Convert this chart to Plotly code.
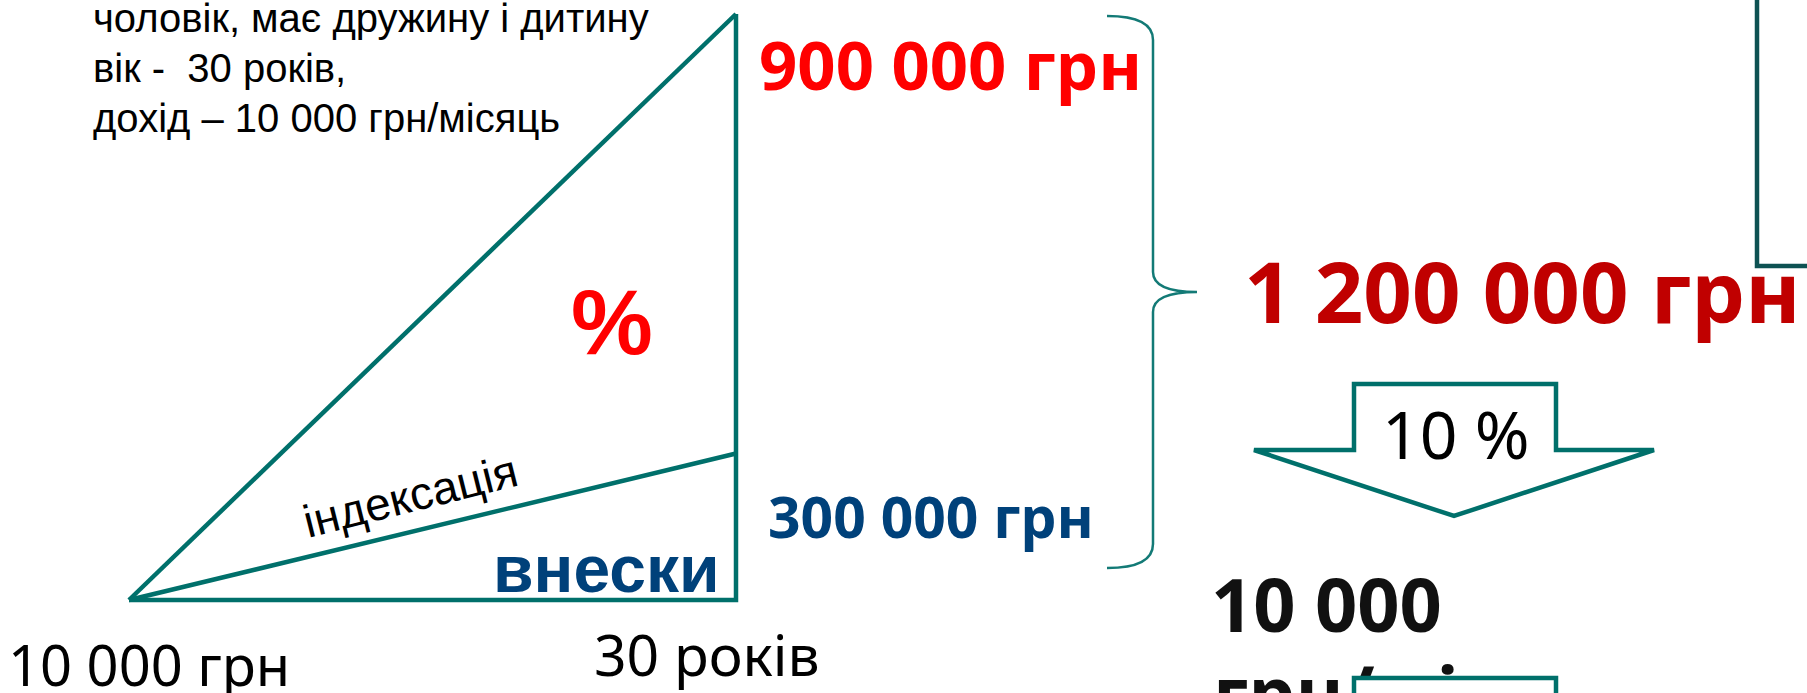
import plotly.graph_objects as go

# ---- data ----
years = 30                      # savings horizon, years
monthly_income = 10000          # грн / month
contributions = 300000          # own contributions, грн
investment_growth = 900000      # investment income, грн
total_savings = 1200000         # accumulated total, грн
payout_percent = 10             # annual payout share, %
monthly_payout = 10000          # грн / month

description_lines = [
    "чоловік, має дружину і дитину",
    "вік -  30 років,",
    "дохід – 10 000 грн/місяць",
]
label_contrib = "внески"
label_index = "індексація"
label_percent = "%"
payout_unit = "грн/міс"


def fmt(v):
    return f"{v:,}".replace(",", " ")


W, H = 1807, 693
TEAL = "#00706B"
DARK_TEAL = "#0E5253"
RED = "#FF0000"
DARK_RED = "#C00000"
NAVY = "#00417A"
ARIAL = "Liberation Sans, Arial, sans-serif"
SANS = "Noto Sans, Open Sans, sans-serif"

fig = go.Figure()

# triangle chart: x = years, y = hryvnia
fig.add_trace(go.Scatter(
    x=[0, years, years], y=[0, 0, total_savings], mode="lines",
    line=dict(color=TEAL, width=4.5), hoverinfo="skip", showlegend=False,
    xaxis="x", yaxis="y"))
fig.add_trace(go.Scatter(
    x=[0, years], y=[0, total_savings], mode="lines",
    line=dict(color=TEAL, width=4.5), hoverinfo="skip", showlegend=False,
    xaxis="x", yaxis="y"))
fig.add_trace(go.Scatter(
    x=[0, years], y=[0, contributions], mode="lines",
    line=dict(color=TEAL, width=4.5), hoverinfo="skip", showlegend=False,
    xaxis="x", yaxis="y"))

# payout unit text drawn as a trace so the box shape can cover it
fig.add_trace(go.Scatter(
    x=[1213], y=[664], mode="text", text=[f"<b>{payout_unit}</b>"],
    textposition="bottom right", cliponaxis=False,
    textfont=dict(family=SANS, size=74, color="#111111"),
    hoverinfo="skip", showlegend=False, xaxis="x2", yaxis="y2"))

# axis mapping: year 0 -> px 129, year 30 -> px 736 ; 0 грн -> px 600, total -> px 14
x0p, x1p = 129, 736
y0p, y1p = 600, 14
ppy = (x1p - x0p) / years
ppv = (y0p - y1p) / total_savings
xr = [-1, years + 1]
yr = [-20000, total_savings + 20000]
xd = [(x0p + xr[0] * ppy) / W, (x0p + xr[1] * ppy) / W]
yd = [1 - (y0p - yr[0] * ppv) / H, 1 - (y0p - yr[1] * ppv) / H]

fig.update_layout(
    width=W, height=H, margin=dict(l=0, r=0, t=0, b=0),
    paper_bgcolor="white", plot_bgcolor="rgba(0,0,0,0)",
    xaxis=dict(domain=xd, range=xr, visible=False, fixedrange=True),
    yaxis=dict(domain=yd, range=yr, visible=False, fixedrange=True),
    xaxis2=dict(domain=[0, 1], range=[0, W], visible=False, anchor="y2", fixedrange=True),
    yaxis2=dict(domain=[0, 1], range=[H, 0], visible=False, anchor="x2", fixedrange=True),
    showlegend=False,
)

ann = []


def text(x, y, t, size, color="black", family=SANS, bold=False, xanchor="left",
         yanchor="middle", angle=0):
    if bold:
        t = f"<b>{t}</b>"
    ann.append(dict(x=x, y=y, xref="x2", yref="y2", text=t, showarrow=False,
                    xanchor=xanchor, yanchor=yanchor, textangle=angle,
                    font=dict(family=family, size=size, color=color)))


# description (top-left)
for i, line in enumerate(description_lines):
    text(91, 18 + i * 50, line.replace("  ", " &nbsp;"), 40, family=ARIAL)

# triangle labels
text(612, 322, label_percent, 92, RED, ARIAL, bold=True, xanchor="center")
text(410, 496, label_index, 46, "black", ARIAL, xanchor="center", angle=-14)
text(722, 569, label_contrib, 66, NAVY, ARIAL, bold=True, xanchor="right")
text(6, 664, f"{fmt(monthly_income)} грн", 56)
text(592, 654, f"{years} років", 57)

# amounts
text(757, 64, f"{fmt(investment_growth)} грн", 67, RED, bold=True)
text(766, 516, f"{fmt(contributions)} грн", 57, NAVY, bold=True)
text(1242, 290, f"{fmt(total_savings)} грн", 85, DARK_RED, bold=True)

# payout
text(1209, 603, fmt(monthly_payout), 74, "#111111", bold=True)
text(1456, 433, f"{payout_percent} %", 66, xanchor="center")

shapes = []
# brace
shapes.append(dict(type="path", xref="x2", yref="y2",
                   path="M 1107 16 Q 1153 16 1153 40 L 1153 272 Q 1153 292 1197 292 "
                        "Q 1153 292 1153 312 L 1153 544 Q 1153 568 1107 568",
                   line=dict(color="#137A76", width=2.5)))
# right box corner
shapes.append(dict(type="path", xref="x2", yref="y2",
                   path="M 1757 -5 L 1757 266 L 1812 266",
                   line=dict(color=DARK_TEAL, width=4.5)))
# down arrow callout
shapes.append(dict(type="path", xref="x2", yref="y2",
                   path="M 1354 384 L 1556 384 L 1556 450 L 1654 450 L 1454 516 "
                        "L 1254 450 L 1354 450 Z",
                   line=dict(color=TEAL, width=4.5), fillcolor="white", layer="below"))
# box covering bottom text
shapes.append(dict(type="rect", xref="x2", yref="y2", x0=1354, x1=1556, y0=678, y1=760,
                   line=dict(color=TEAL, width=4.5), fillcolor="white", layer="above"))

fig.update_layout(shapes=shapes, annotations=ann)

fig.write_html("out.html", config={"displayModeBar": False},
               post_script="document.body.style.margin='0';document.body.style.overflow='hidden';")
